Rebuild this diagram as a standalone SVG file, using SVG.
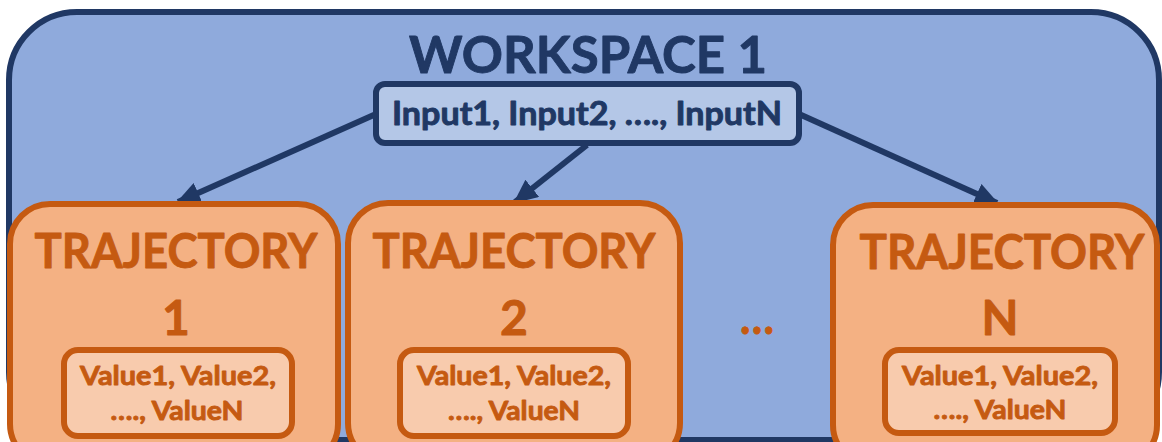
<svg xmlns="http://www.w3.org/2000/svg" width="1162" height="442" viewBox="0 0 1162 442">
<style>
.ws{fill:#8FAADC;stroke:#203864;stroke-width:6}
.inbox{fill:#B4C7E7;stroke:#203864;stroke-width:6}
.traj{fill:#F4B183;stroke:#C55A11;stroke-width:6}
.val{fill:#F8CBAD;stroke:#C55A11;stroke-width:6}
.t{font-family:Lato,"Open Sans","Liberation Sans",sans-serif;font-weight:bold;text-anchor:middle;stroke-width:0.9;stroke-linejoin:round}
.navy{fill:#203864;stroke:#203864}
.org{fill:#C55A11;stroke:#C55A11}
.conn{stroke:#203864;stroke-width:6;fill:none}
</style>
<defs>
<marker id="ah" markerUnits="userSpaceOnUse" markerWidth="24" markerHeight="22" viewBox="0 0 24 22" refX="22" refY="11" orient="auto">
<path d="M0,0 L24,11 L0,22 Z" fill="#203864"/>
</marker>
</defs>
<g id="workspace">
<rect class="ws" x="9" y="12" width="1150" height="428" rx="68"/>
<text class="t navy" x="588" y="73" font-size="52" textLength="358" lengthAdjust="spacingAndGlyphs">WORKSPACE 1</text>
</g>
<g id="inputs">
<rect class="inbox" x="376" y="84" width="423" height="59" rx="9"/>
<text class="t navy" x="587" y="125" font-size="32" textLength="390" lengthAdjust="spacingAndGlyphs">Input1, Input2, …., InputN</text>
</g>
<g id="connectors">
<line class="conn" x1="376" y1="114" x2="178" y2="202" marker-end="url(#ah)"/>
<line class="conn" x1="587" y1="145" x2="515" y2="202" marker-end="url(#ah)"/>
<line class="conn" x1="799" y1="114" x2="997" y2="203" marker-end="url(#ah)"/>
</g>
<g id="trajectory1">
<rect class="traj" x="10" y="204" width="328" height="260" rx="40"/>
<text class="t org" x="176" y="268" font-size="48" textLength="283" lengthAdjust="spacingAndGlyphs">TRAJECTORY</text>
<text class="t org" x="176" y="335" font-size="48">1</text>
<g id="values1">
<rect class="val" x="64" y="350" width="228" height="86" rx="14"/>
<text class="t org" x="178" y="385" font-size="27" textLength="196" lengthAdjust="spacingAndGlyphs">Value1, Value2,</text>
<text class="t org" x="177" y="420" font-size="27" textLength="133" lengthAdjust="spacingAndGlyphs">…., ValueN</text>
</g>
</g>
<g id="trajectory2">
<rect class="traj" x="348" y="203" width="332" height="260" rx="40"/>
<text class="t org" x="514" y="268" font-size="48" textLength="283" lengthAdjust="spacingAndGlyphs">TRAJECTORY</text>
<text class="t org" x="514" y="335" font-size="48">2</text>
<g id="values2">
<rect class="val" x="400" y="350" width="228" height="86" rx="14"/>
<text class="t org" x="514" y="385" font-size="27" textLength="194" lengthAdjust="spacingAndGlyphs">Value1, Value2,</text>
<text class="t org" x="514" y="420" font-size="27" textLength="132" lengthAdjust="spacingAndGlyphs">…., ValueN</text>
</g>
</g>
<g id="ellipsis">
<text class="t org" x="757" y="334" font-size="48" textLength="34" lengthAdjust="spacingAndGlyphs">…</text>
</g>
<g id="trajectoryN">
<rect class="traj" x="833" y="205" width="324" height="260" rx="40"/>
<text class="t org" x="1002" y="269" font-size="48" textLength="285" lengthAdjust="spacingAndGlyphs">TRAJECTORY</text>
<text class="t org" x="1000" y="335" font-size="48">N</text>
<g id="valuesN">
<rect class="val" x="885" y="350" width="230" height="83" rx="14"/>
<text class="t org" x="1000" y="385" font-size="27" textLength="196" lengthAdjust="spacingAndGlyphs">Value1, Value2,</text>
<text class="t org" x="1000" y="419" font-size="27" textLength="133" lengthAdjust="spacingAndGlyphs">…., ValueN</text>
</g>
</g>
</svg>
